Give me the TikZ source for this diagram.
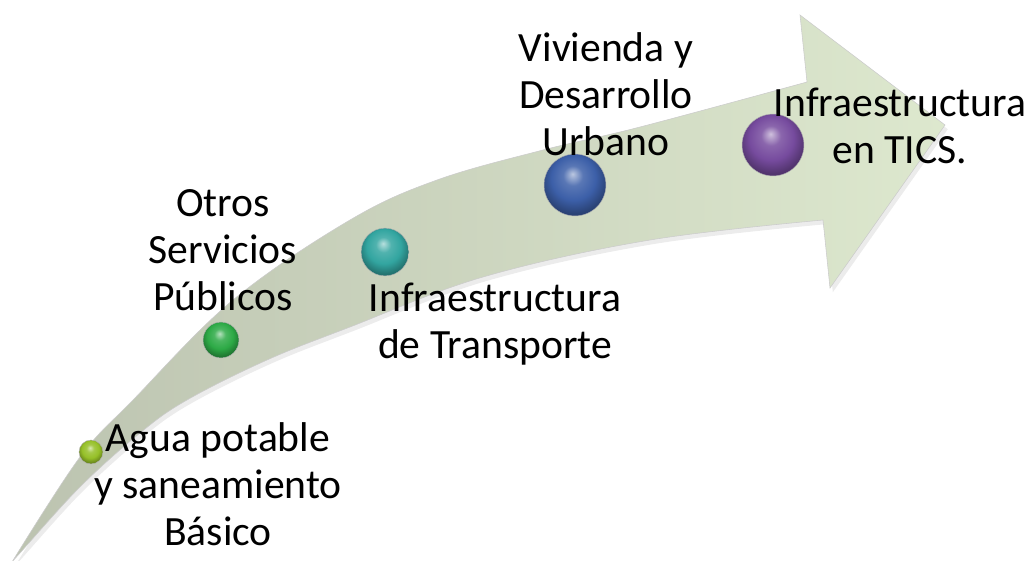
\documentclass[tikz,border=0pt]{standalone}
\usepackage{fontspec}
\setmainfont{Carlito}
\usepackage{tikz}
\usetikzlibrary{shadows}

\definecolor{tailgreen}{RGB}{188,195,176}
\definecolor{headgreen}{RGB}{221,232,206}
\definecolor{limeball}{RGB}{150,192,40}
\definecolor{greenball}{RGB}{45,170,70}
\definecolor{tealball}{RGB}{50,165,160}
\definecolor{blueball}{RGB}{60,95,168}
\definecolor{purpleball}{RGB}{118,75,158}

\colorlet{spherecol}{tealball}
\pgfdeclareradialshading[spherecol]{sphere}{\pgfpoint{-2bp}{9bp}}{%
  color(0bp)=(spherecol!35!white); color(8bp)=(spherecol!85!white);
  color(18bp)=(spherecol); color(24bp)=(spherecol!80!black);
  color(27bp)=(spherecol!70!black); color(50bp)=(spherecol!60!black)}

\begin{document}
\begin{tikzpicture}[
    x=0.025cm, y=-0.025cm,
    arrowbody/.style={left color=tailgreen, right color=headgreen, draw=black!20, line width=0.4pt,
        drop shadow={opacity=0.15, shadow xshift=2pt, shadow yshift=-3pt}},
    ball/.style={circle, inner sep=0pt, shading=sphere, draw=black!30, line width=0.3pt},
    ballcol/.code={\colorlet{spherecol}{#1}},
    label/.style={align=center, font=\fontsize{29.6}{33.5}\selectfont, inner sep=0pt}
]
\useasboundingbox (0,0) rectangle (1032,560);

% Curved arrow
\path[arrowbody] (12,562)
    -- plot[smooth, tension=0.6] coordinates {(12,562) (80,457) (133,400) (233,300) (350,220) (437,180) (543,150) (640,127) (807,82)}
    -- (800,15) -- (945,125) -- (830,288)
    -- plot[smooth, tension=0.6] coordinates {(823,220) (650,240) (483,277) (350,327) (267,360) (187,400) (140,433) (80,487) (20,553) (12,562)}
    -- cycle;

% Spheres
\node[ballcol=limeball, ball, minimum size=17pt] (agua) at (91,452) {};
\node[ballcol=greenball, ball, minimum size=25.5pt] (otros) at (221,340) {};
\node[ballcol=tealball, ball, minimum size=34pt] (transporte) at (385,252) {};
\node[ballcol=blueball, ball, minimum size=44pt] (vivienda) at (575,185) {};
\node[ballcol=purpleball, ball, minimum size=44pt] (tics) at (773,145) {};

% Labels
\node[label] (aguatext) at (218,484) {Agua potable\\y saneamiento\\Básico};
\node[label] (otrostext) at (223,250) {Otros\\Servicios\\Públicos};
\node[label] (transportetext) at (495,324) {Infraestructura\\de Transporte};
\node[label] (viviendatext) at (606,94) {Vivienda y\\Desarrollo\\Urbano};
\node[label] (ticstext) at (900,126) {Infraestructura\\en TICS.};

\end{tikzpicture}
\end{document}
